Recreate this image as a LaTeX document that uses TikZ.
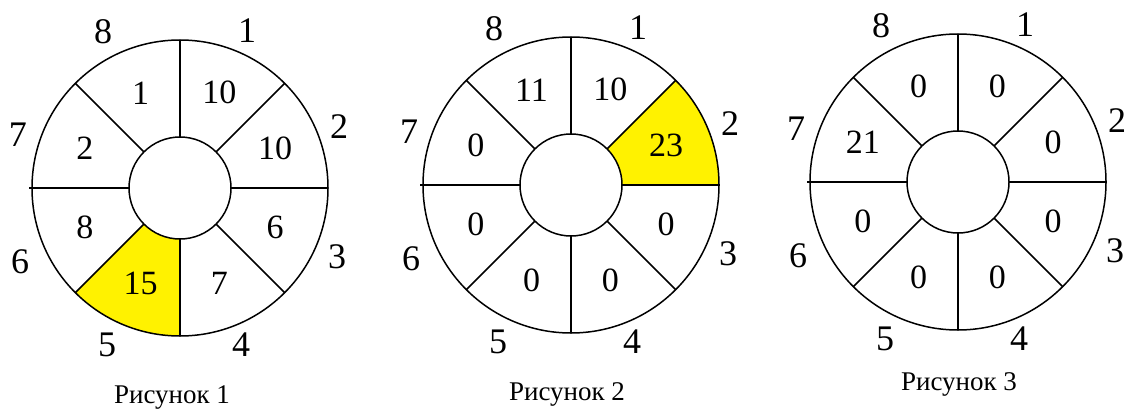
\documentclass[tikz,border=0pt]{standalone}
\usepackage{fontspec}
\setmainfont{Liberation Serif}
\definecolor{hl}{RGB}{255,242,0}
\tikzset{
  ringline/.style={line width=1.5pt, black},
  val/.style={font=\fontsize{34}{34}\selectfont, inner sep=0pt},
  num/.style={font=\fontsize{36}{36}\selectfont, inner sep=0pt},
  capt/.style={font=\fontsize{27}{27}\selectfont, inner sep=0pt, anchor=base}
}
% #1 name, #2 x, #3 y, #4 highlighted sector (0 = none), #5 values
\newcommand\myring[5]{%
  \coordinate (#1c) at (#2pt,#3pt);
  \begin{scope}[shift={(#1c)}]
    \ifnum#4>0
      \pgfmathsetmacro\aone{90-45*(#4-1)}
      \pgfmathsetmacro\atwo{90-45*#4}
      \fill[hl] (\aone:51pt) -- (\aone:148pt) arc[start angle=\aone, end angle=\atwo, radius=148pt]
        -- (\atwo:51pt) arc[start angle=\atwo, end angle=\aone, radius=51pt] -- cycle;
    \fi
    \draw[ringline] (0,0) circle[radius=148pt];
    \foreach \k in {0,1,2,3,5,6,7} {\draw[ringline] (\k*45:51pt) -- (\k*45:148pt);}
    \draw[ringline] (180:51pt) -- (180:151pt);
    \draw[ringline, fill=white] (0,0) circle[radius=51pt];
    \foreach \v [count=\k] in {#5} {\node[val] (#1v\k) at ({67.5-45*(\k-1)}:103pt) {\v};}
    \foreach \dx/\dy [count=\k] in {67/157,159/61,157/-69,61/-157,-73/-157,-160/-74,-162/53,-77/156}
      {\node[num] (#1n\k) at (\dx pt,\dy pt) {\k};}
  \end{scope}}
\begin{document}
\begin{tikzpicture}[x=1pt,y=1pt]
  \fill[white] (0,0) rectangle (1126,408);
  \useasboundingbox (0,0) rectangle (1126,408);
  \myring{ra}{180}{220}{5}{10,10,6,7,15,8,2,1}
  \myring{rb}{571}{223}{2}{10,23,0,0,0,0,0,11}
  \myring{rc}{958}{226}{0}{0,0,0,0,0,0,21,0}
  \node[capt] (capa) at (172,5) {Рисунок 1};
  \node[capt] (capb) at (567,8) {Рисунок 2};
  \node[capt] (capc) at (959,18) {Рисунок 3};
\end{tikzpicture}
\end{document}
